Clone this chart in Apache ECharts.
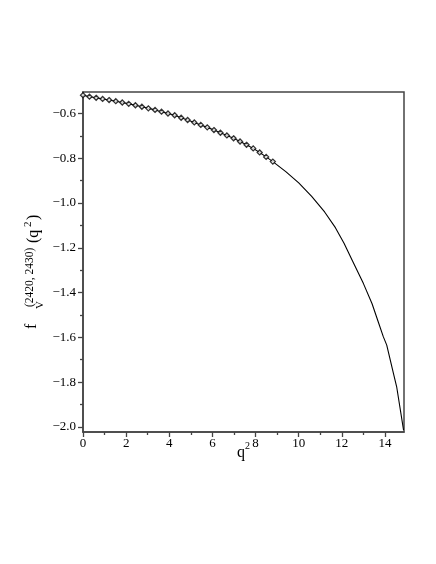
<!DOCTYPE html>
<html><head><meta charset="utf-8">
<script src="https://cdn.jsdelivr.net/npm/echarts@6/dist/echarts.min.js"></script>
<style>html,body{margin:0;padding:0;background:#fff}#c{width:436px;height:564px}</style>
</head><body><div id="c"></div>
<script>
// Fitted-point data (diamonds)
var markerX = [0,0.30,0.61,0.91,1.21,1.52,1.82,2.12,2.43,2.73,3.03,3.34,3.64,3.94,4.25,4.55,4.85,5.16,5.46,5.76,6.07,6.37,6.67,6.98,7.28,7.58,7.89,8.19,8.49,8.80];
var markerY = [-0.518,-0.525,-0.530,-0.535,-0.540,-0.545,-0.551,-0.557,-0.563,-0.570,-0.577,-0.584,-0.592,-0.600,-0.608,-0.619,-0.629,-0.640,-0.651,-0.662,-0.674,-0.686,-0.698,-0.711,-0.725,-0.740,-0.756,-0.774,-0.794,-0.815];
// Continuation of the curve beyond the fitted region
var tailX = [9.4,10.0,10.6,11.2,11.7,12.1,12.5,13.0,13.4,13.7,13.92,14.08,14.39,14.54,14.86];
var tailY = [-0.860,-0.910,-0.970,-1.040,-1.110,-1.180,-1.260,-1.360,-1.450,-1.535,-1.597,-1.635,-1.761,-1.821,-2.015];
// Tick values
var xMajor = [0,2,4,6,8,10,12,14];
var xMinor = [1,3,5,7,9,11,13];
var yMajor = [-2.0,-1.8,-1.6,-1.4,-1.2,-1.0,-0.8,-0.6];
var yMinor = [-1.9,-1.7,-1.5,-1.3,-1.1,-0.9,-0.7];

var X_MIN = 0, X_MAX = 14.88, Y_MIN = -2.023, Y_MAX = -0.504;
var FONT = 'Liberation Serif';
var AX = '#444';

var markerData = markerX.map(function(x,i){return [x, markerY[i]];});
var lineData = markerData.concat(tailX.map(function(x,i){return [x, tailY[i]];}));

var chart = echarts.init(document.getElementById('c'), null, {renderer:'canvas'});
var lbl = {fontFamily: FONT, fontSize: 13, color: '#000'};
chart.setOption({
  animation: false,
  backgroundColor: '#fff',
  grid: {left: 83, right: 32, top: 92, bottom: 132, show: true, borderColor: AX, borderWidth: 1.5, backgroundColor: 'transparent'},
  xAxis: [{
    type: 'value', min: X_MIN, max: X_MAX,
    axisLine: {show: true, lineStyle: {color: AX, width: 1.5}},
    axisTick: {show: true, length: 5, inside: false, customValues: xMajor, lineStyle: {color: AX, width: 1.3}},
    axisLabel: Object.assign({customValues: xMajor, margin: 5, formatter: function(v){return String(v);}}, lbl),
    splitLine: {show: false}
  },{
    type: 'value', min: X_MIN, max: X_MAX, position: 'bottom',
    axisLine: {show: false},
    axisTick: {show: true, length: 3, customValues: xMinor, lineStyle: {color: AX, width: 1.3}},
    axisLabel: {show: false}, splitLine: {show: false}
  }],
  yAxis: [{
    type: 'value', min: Y_MIN, max: Y_MAX,
    axisLine: {show: true, lineStyle: {color: AX, width: 1.5}},
    axisTick: {show: true, length: 5, customValues: yMajor, lineStyle: {color: AX, width: 1.3}},
    axisLabel: Object.assign({customValues: yMajor, margin: 7, formatter: function(v){return (v<0?'\u2212':'') + Math.abs(v).toFixed(1);}}, lbl),
    splitLine: {show: false}
  },{
    type: 'value', min: Y_MIN, max: Y_MAX, position: 'left',
    axisLine: {show: false},
    axisTick: {show: true, length: 3, customValues: yMinor, lineStyle: {color: AX, width: 1.3}},
    axisLabel: {show: false}, splitLine: {show: false}
  }],
  series: [{
    type: 'line', data: lineData, xAxisIndex: 0, yAxisIndex: 0,
    showSymbol: false, smooth: false,
    lineStyle: {color: '#000', width: 1.1}, z: 3
  },{
    type: 'scatter', data: markerData, xAxisIndex: 0, yAxisIndex: 0,
    symbol: 'diamond', symbolSize: [5,5],
    itemStyle: {color: '#fff', borderColor: '#000', borderWidth: 1.3}, z: 4
  }],
  graphic: [
    {type: 'group', x: 237, y: 453, children: [
      {type: 'text', x: 0, y: 0, style: {text: 'q', font: '16px ' + FONT, fill: '#000', textAlign: 'left', textVerticalAlign: 'middle'}},
      {type: 'text', x: 8, y: -7, style: {text: '2', font: '10px ' + FONT, fill: '#000', textAlign: 'left', textVerticalAlign: 'middle'}}
    ]},
    {type: 'group', x: 36, y: 329, rotation: Math.PI/2, children: [
      {type: 'text', x: 0, y: -4, style: {text: 'f', font: '16px ' + FONT, fill: '#000', textAlign: 'left', textVerticalAlign: 'middle'}},
      {type: 'text', x: 20, y: 4, style: {text: 'V', font: '11px ' + FONT, fill: '#000', textAlign: 'left', textVerticalAlign: 'middle'}},
      {type: 'text', x: 22, y: -6, style: {text: '(2420, 2430)', font: '11.5px ' + FONT, fill: '#000', textAlign: 'left', textVerticalAlign: 'middle'}},
      {type: 'text', x: 86, y: -2, style: {text: '(q', font: '16px ' + FONT, fill: '#000', textAlign: 'left', textVerticalAlign: 'middle'}},
      {type: 'text', x: 102, y: -8, style: {text: '2', font: '11px ' + FONT, fill: '#000', textAlign: 'left', textVerticalAlign: 'middle'}},
      {type: 'text', x: 109, y: -2, style: {text: ')', font: '16px ' + FONT, fill: '#000', textAlign: 'left', textVerticalAlign: 'middle'}}
    ]}
  ]
});
</script>
</body></html>
